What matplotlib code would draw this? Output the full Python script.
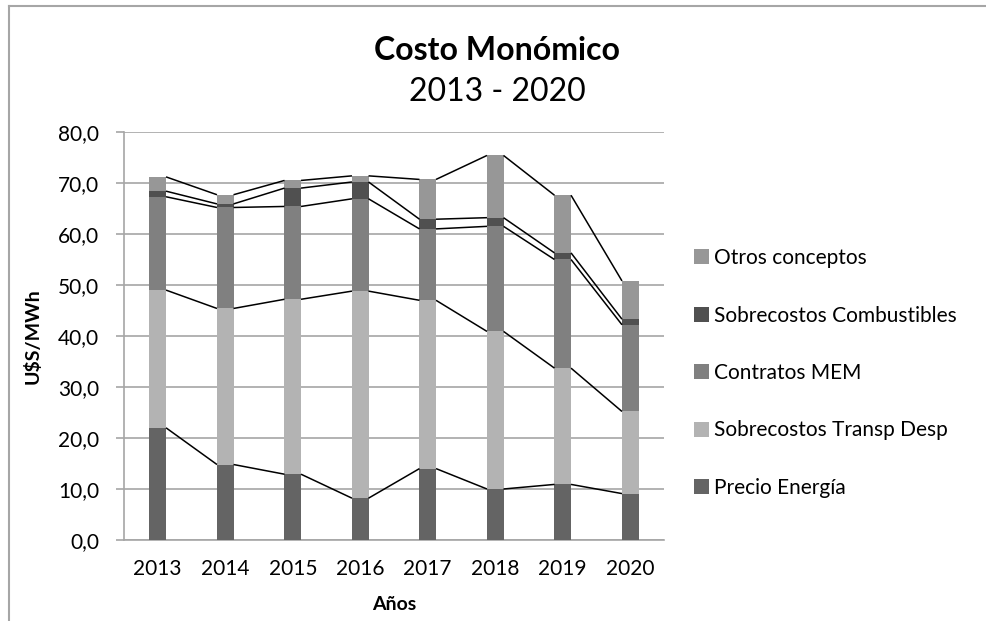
import numpy as np
import matplotlib
matplotlib.use("Agg")
import matplotlib.pyplot as plt
from matplotlib.patches import Patch
from matplotlib.lines import Line2D

plt.rcParams["font.family"] = ["Lato", "DejaVu Sans"]

# data (U$S/MWh)
years = ["2013", "2014", "2015", "2016", "2017", "2018", "2019", "2020"]
precio = [22.0, 14.8, 12.9, 8.2, 14.0, 10.0, 10.9, 9.1]
transp = [27.0, 30.6, 34.3, 40.6, 33.0, 30.9, 22.8, 16.1]
mem = [18.3, 19.8, 18.2, 18.1, 14.0, 20.6, 21.3, 17.0]
comb = [1.1, 0.7, 3.6, 3.3, 1.9, 1.7, 1.3, 1.1]
otros = [2.8, 1.8, 1.5, 1.2, 7.8, 12.2, 11.3, 7.5]

series = [
    ("Precio Energía", precio, "#646464"),
    ("Sobrecostos Transp Desp", transp, "#b3b3b3"),
    ("Contratos MEM", mem, "#808080"),
    ("Sobrecostos Combustibles", comb, "#505050"),
    ("Otros conceptos", otros, "#979797"),
]

W, H = 986, 621
fig = plt.figure(figsize=(W / 100, H / 100), dpi=100)
ax = fig.add_axes([124 / W, 1 - 540 / H, 540 / W, 408 / H])

x = np.arange(len(years))
bw = 0.245
bottom = np.zeros(len(years))
levels = []
for name, vals, col in series:
    vals = np.array(vals)
    ax.bar(x, vals, bw, bottom=bottom, color=col, zorder=3, linewidth=0)
    bottom = bottom + vals
    levels.append(bottom.copy())

# excel style series lines between bars
for lev in levels:
    for i in range(len(years) - 1):
        ax.plot([x[i] + bw / 2, x[i + 1] - bw / 2], [lev[i], lev[i + 1]],
                color="black", lw=1.1, zorder=4, solid_capstyle="butt")

ax.set_xlim(-0.5, len(years) - 0.5)
ax.set_ylim(0, 80)
ax.set_yticks(np.arange(0, 81, 10))
ax.set_yticklabels([f"{v:.1f}".replace(".", ",") for v in np.arange(0, 81, 10)])
ax.set_xticks(x)
ax.set_xticklabels(years)
ax.yaxis.grid(True, color="#a6a6a6", lw=1.2, zorder=0)
ax.set_axisbelow(True)
for s in ["top", "right"]:
    ax.spines[s].set_visible(False)
for s in ["left", "bottom"]:
    ax.spines[s].set_color("#a6a6a6")
    ax.spines[s].set_linewidth(1.2)
ax.tick_params(axis="y", length=6, color="#a6a6a6", width=1.2, labelsize=15, pad=12)
ax.tick_params(axis="x", length=0, labelsize=15, pad=14)

ax.set_ylabel("U$S/MWh", fontsize=14, fontweight="bold", labelpad=12)
ax.set_xlabel("Años", fontsize=14, fontweight="bold", labelpad=12)

fig.text(497 / W, 1 - 51 / H, "Costo Monómico", fontsize=23, fontweight="bold",
         ha="center", va="center")
fig.text(497 / W, 1 - 92 / H, "2013 - 2020", fontsize=23, ha="center", va="center")

handles = [Patch(facecolor=c, edgecolor="none", label=n) for n, v, c in series[::-1]]
fig.legend(handles=handles, loc="center left", bbox_to_anchor=(694 / W, 1 - 373 / H),
           frameon=False, fontsize=15, handlelength=0.7, handleheight=0.7,
           handletextpad=0.25, labelspacing=1.8, borderpad=0, borderaxespad=0)

# chart area border (cropped on right and bottom)
fig.add_artist(Line2D([9 / W, 9 / W], [1 - 6 / H, -0.1], color="#a6a6a6", lw=1.5,
                      transform=fig.transFigure))
fig.add_artist(Line2D([9 / W, 1.1], [1 - 6 / H, 1 - 6 / H], color="#a6a6a6", lw=1.5,
                      transform=fig.transFigure))

fig.savefig("out.png", dpi=100, facecolor="white")
